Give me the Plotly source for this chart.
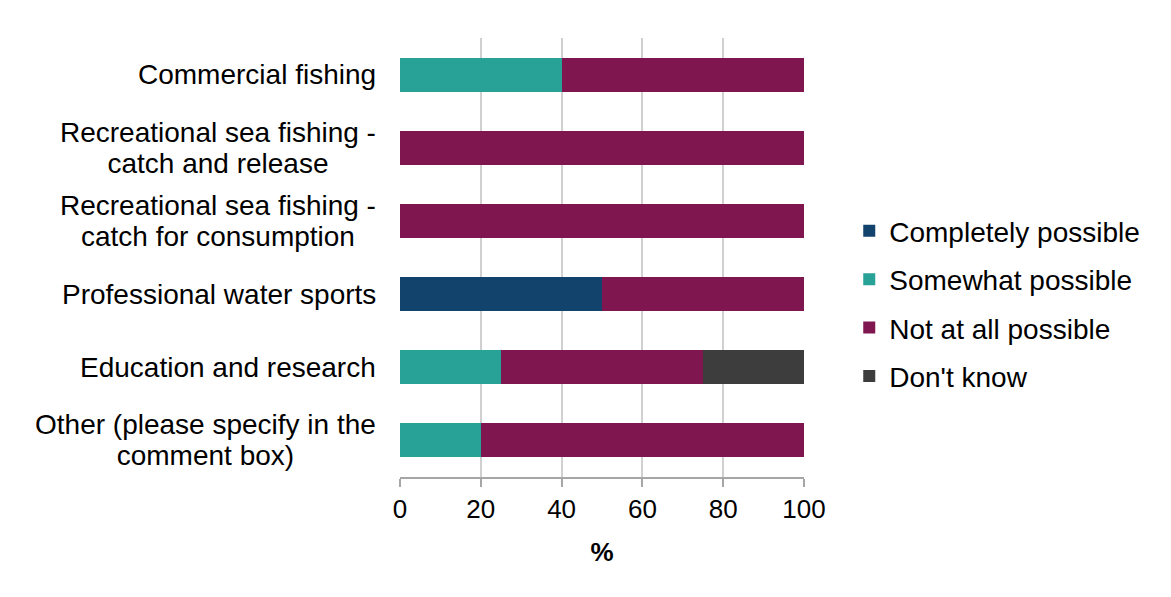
import plotly.graph_objects as go

categories = [
    "Commercial fishing",
    "Recreational sea fishing -<br>catch and release",
    "Recreational sea fishing -<br>catch for consumption",
    "Professional water sports",
    "Education and research",
    "Other (please specify in the<br>comment box)",
]
series_names = ["Completely possible", "Somewhat possible", "Not at all possible", "Don't know"]
completely = [0, 0, 0, 50, 0, 0]
somewhat = [40, 0, 0, 0, 25, 20]
not_at_all = [60, 100, 100, 50, 50, 80]
dont_know = [0, 0, 0, 0, 25, 0]
colors = ["#12436D", "#28A197", "#801650", "#3D3D3D"]
x_ticks = [0, 20, 40, 60, 80, 100]

FONT = "Liberation Sans, Arial, sans-serif"
fig = go.Figure()
for i, (name, vals) in enumerate(zip(series_names, [completely, somewhat, not_at_all, dont_know])):
    fig.add_trace(go.Bar(
        y=categories, x=vals, name=name, orientation="h",
        marker=dict(color=colors[i], line=dict(width=0)),
        legendgroup=f"g{i}",
    ))

fig.update_layout(
    barmode="stack",
    bargap=0.535,
    width=1163, height=589,
    margin=dict(l=392, r=367, t=30, b=120, autoexpand=False),
    plot_bgcolor="white", paper_bgcolor="white",
    font=dict(family=FONT, size=26, color="#000000"),
    legend=dict(
        x=1.112, y=0.395, xanchor="left", yanchor="middle",
        traceorder="grouped", tracegroupgap=9,
        font=dict(size=28), bgcolor="rgba(0,0,0,0)",
    ),
    showlegend=True,
)
fig.update_xaxes(
    range=[0, 100], tickvals=x_ticks, ticktext=[str(t) for t in x_ticks],
    showgrid=True, gridcolor="#D0D0D0", gridwidth=2,
    zeroline=False,
    showline=True, linecolor="#A6A6A6", linewidth=2,
    ticks="outside", ticklen=8, tickcolor="#A6A6A6", tickwidth=2,
    tickfont=dict(size=26),
    title=dict(text="<b>%</b>", font=dict(size=26), standoff=20),
)
fig.update_yaxes(
    categoryorder="array", categoryarray=categories, autorange="reversed",
    showticklabels=False, showgrid=False, showline=False, ticks="",
)
for c in categories:
    lines = c.split("<br>")
    txt = "<br>".join(f'<span style="font-size:28px">{ln}</span>' for ln in lines)
    fig.add_annotation(
        x=-0.055, xref="paper", y=c, yref="y", text=txt, showarrow=False,
        xanchor="right", yanchor="middle", align="center",
        font=dict(size=24, family=FONT),
    )
fig.add_shape(
    type="line", xref="paper", yref="paper",
    x0=1.898, x1=1.898, y0=1.066, y1=-0.28,
    line=dict(color="#D9D9D9", width=3), layer="above",
)
fig.write_html("out.html")
